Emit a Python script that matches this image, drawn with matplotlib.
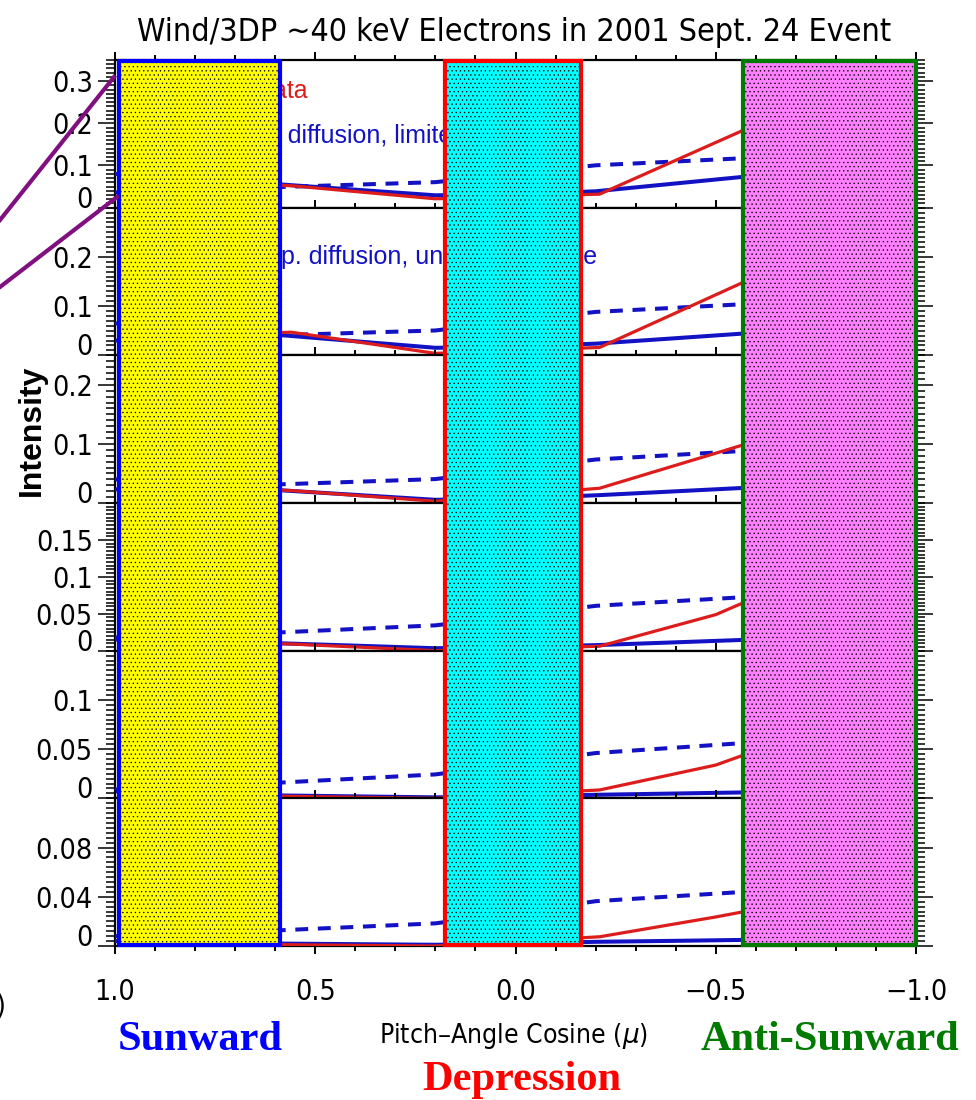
import matplotlib
matplotlib.use("Agg")
import matplotlib.pyplot as plt
import matplotlib.transforms as mtransforms
from matplotlib.patches import Rectangle
from matplotlib.lines import Line2D
from matplotlib.ticker import MultipleLocator

# ---------------- data ----------------
mu_data = [0.95, 0.80, 0.56, 0.20, -0.21, -0.50, -0.80, -0.95]
mu_model = [1.0, 0.8, 0.6, 0.4, 0.2, 0.0, -0.2, -0.4, -0.6, -0.8, -1.0]

data_p1 = [0.070, 0.060, 0.052, 0.021, 0.032, 0.1545, 0.281, 0.320]
data_p2 = [0.050, 0.040, 0.047, 0.004, 0.016, 0.123, 0.234, 0.290]
data_p3 = [0.035, 0.028, 0.021, 0.003, 0.025, 0.0843, 0.146, 0.180]
data_p4 = [0.015, 0.012, 0.009, 0.000, 0.006, 0.0488, 0.119, 0.140]
data_p5 = [0.005, 0.004, 0.002, 0.000, 0.0085, 0.0338, 0.0776, 0.090]
data_p6 = [0.003, 0.002, 0.001, 0.000, 0.0075, 0.0236, 0.042, 0.050]

limited_p1 = [0.080, 0.070, 0.056, 0.0426, 0.0293, 0.032, 0.0388, 0.0574, 0.076, 0.094, 0.110]
limited_p2 = [0.065, 0.055, 0.042, 0.0287, 0.0153, 0.018, 0.0237, 0.0348, 0.046, 0.057, 0.066]
limited_p3 = [0.040, 0.031, 0.0221, 0.0138, 0.0054, 0.008, 0.013, 0.0198, 0.0266, 0.033, 0.040]
limited_p4 = [0.018, 0.014, 0.0102, 0.0068, 0.0033, 0.005, 0.0075, 0.0113, 0.0152, 0.019, 0.023]
limited_p5 = [0.007, 0.005, 0.003, 0.002, 0.001, 0.002, 0.0036, 0.0049, 0.0062, 0.0075, 0.009]
limited_p6 = [0.004, 0.003, 0.002, 0.0015, 0.001, 0.002, 0.0034, 0.0042, 0.0051, 0.006, 0.007]

unlimited_p1 = [0.036, 0.042, 0.0486, 0.0545, 0.0605, 0.080, 0.1004, 0.1095, 0.1186, 0.126, 0.133]
unlimited_p2 = [0.030, 0.035, 0.0406, 0.0456, 0.0505, 0.070, 0.0882, 0.0967, 0.1052, 0.113, 0.120]
unlimited_p3 = [0.023, 0.027, 0.0313, 0.0359, 0.0405, 0.057, 0.0736, 0.0815, 0.0894, 0.097, 0.104]
unlimited_p4 = [0.015, 0.019, 0.0244, 0.0294, 0.0343, 0.047, 0.0607, 0.0671, 0.0734, 0.080, 0.085]
unlimited_p5 = [0.009, 0.012, 0.0157, 0.0200, 0.0243, 0.035, 0.0460, 0.0515, 0.0570, 0.062, 0.066]
unlimited_p6 = [0.008, 0.010, 0.0126, 0.0155, 0.0184, 0.027, 0.0364, 0.0405, 0.0446, 0.048, 0.051]

data_series = [data_p1, data_p2, data_p3, data_p4, data_p5, data_p6]
limited_series = [limited_p1, limited_p2, limited_p3, limited_p4, limited_p5, limited_p6]
unlimited_series = [unlimited_p1, unlimited_p2, unlimited_p3, unlimited_p4, unlimited_p5, unlimited_p6]

y_tops = [0.35, 0.30, 0.25, 0.20, 0.15, 0.12]
y_major = [[0, 0.1, 0.2, 0.3], [0, 0.1, 0.2], [0, 0.1, 0.2],
           [0, 0.05, 0.1, 0.15], [0, 0.05, 0.1], [0, 0.04, 0.08]]
y_major_labels = [["0", "0.1", "0.2", "0.3"], ["0", "0.1", "0.2"], ["0", "0.1", "0.2"],
                  ["0", "0.05", "0.1", "0.15"], ["0", "0.05", "0.1"], ["0", "0.04", "0.08"]]
y_minor = [0.01, 0.01, 0.01, 0.005, 0.005, 0.004]

x_major = [1.0, 0.5, 0.0, -0.5, -1.0]
x_major_labels = ["1.0", "0.5", "0.0", "\u22120.5", "\u22121.0"]

title = "Wind/3DP ~40 keV Electrons in 2001 Sept. 24 Event"
xlabel = "Pitch\u2013Angle Cosine ($\\mu$)"
ylabel = "Intensity"

# regions (mu ranges) highlighted
region_spans = [(0.989, 0.589), (0.175, -0.1625), (-0.5675, -1.0)]
region_faces = ["#ffff00", "#00ffff", "#ff80ff"]
region_edges = ["#0000ff", "#ff0000", "#007a00"]
region_names = ["Sunward", "Depression", "Anti-Sunward"]

# ---------------- style ----------------
NARROW = dict(family=["DejaVu Sans"], stretch="condensed")
SANS = ["Liberation Sans", "DejaVu Sans"]
SERIF = ["Liberation Serif", "DejaVu Serif"]
RED = "#dd1c1c"
BLUE = "#1212c4"
plt.rcParams["hatch.linewidth"] = 0.45
plt.rcParams["axes.unicode_minus"] = True
plt.rcParams["mathtext.fontset"] = "dejavusans"

W, H = 976, 1100
fig = plt.figure(figsize=(W / 100, H / 100), dpi=100)


def fx(px):
    return px / W


def fy(py):
    return 1 - py / H


left_px, right_px, top_px, bot_px = 115, 916, 60, 946
npan = 6
ph = (bot_px - top_px) / npan

axes = []
for i in range(npan):
    t = top_px + i * ph
    ax = fig.add_axes([fx(left_px), fy(t + ph), (right_px - left_px) / W, ph / H])
    ax.set_xlim(1.0, -1.0)
    ax.set_ylim(0, y_tops[i])
    ax.plot(mu_model, limited_series[i], color=BLUE, lw=2.9, zorder=3,
            solid_capstyle="butt")
    ax.plot(mu_model, unlimited_series[i], color=BLUE, lw=2.9, zorder=3,
            linestyle=(0, (3.2, 2.4)), dash_capstyle="butt")
    ax.plot(mu_data, data_series[i], color=RED, lw=2.3, zorder=4)

    for sp in ax.spines.values():
        sp.set_linewidth(1.6)
    ax.set_xticks(x_major)
    ax.xaxis.set_minor_locator(MultipleLocator(0.1))
    ax.set_yticks(y_major[i])
    ax.yaxis.set_minor_locator(MultipleLocator(y_minor[i]))
    ax.tick_params(axis="x", which="both", direction="out", top=True, bottom=True,
                   width=1.4, labelbottom=(i == npan - 1), labeltop=False)
    ax.tick_params(axis="x", which="major", length=6)
    ax.tick_params(axis="x", which="minor", length=3.6)
    ax.tick_params(axis="y", which="both", direction="out", left=True, right=True,
                   width=1.1, labelleft=True, labelright=False)
    ax.tick_params(axis="y", which="major", length=12, pad=4)
    ax.tick_params(axis="y", which="minor", length=6.5)
    ax.set_yticklabels(y_major_labels[i], fontsize=20.5, **NARROW)
    for lab, val in zip(ax.get_yticklabels(), y_major[i]):
        if val == 0:
            lab.set_verticalalignment("baseline")
    if i == npan - 1:
        ax.set_xticklabels(x_major_labels, fontsize=20.5, **NARROW)
        ax.tick_params(axis="x", which="major", pad=17)
    axes.append(ax)

# legend texts (partly hidden by the highlight boxes)
axes[0].text((308 - left_px) / (right_px - left_px), (207.7 - 98) / ph, "Data",
             transform=axes[0].transAxes, ha="right", va="baseline",
             color=RED, family=SANS, fontsize=18, zorder=2)
axes[0].text((228 - left_px) / (right_px - left_px), (207.7 - 143.5) / ph,
             "w/ p. diffusion, limited source",
             transform=axes[0].transAxes, ha="left", va="baseline",
             color=BLUE, family=SANS, fontsize=18, zorder=2)
axes[1].text((249 - left_px) / (right_px - left_px), (355.3 - 263.5) / ph,
             "w/ p. diffusion, unlimited source",
             transform=axes[1].transAxes, ha="left", va="baseline",
             color=BLUE, family=SANS, fontsize=18, zorder=2)

# highlight boxes spanning all panels
trans = mtransforms.blended_transform_factory(axes[-1].transData, fig.transFigure)
box_top, box_bot = fy(61), fy(945)
for (m0, m1), fc, ec in zip(region_spans, region_faces, region_edges):
    fill = Rectangle((m0, box_bot), m1 - m0, box_top - box_bot, transform=trans,
                     facecolor=fc, hatch="....", linewidth=0, zorder=10)
    fig.add_artist(fill)
    border = Rectangle((m0, box_bot), m1 - m0, box_top - box_bot, transform=trans,
                       facecolor="none", edgecolor=ec, linewidth=3.0, zorder=11)
    fig.add_artist(border)

# purple pointer lines
for (x0, y0), (x1, y1) in [((0, 220), (114, 77)), ((0, 287), (117, 197))]:
    fig.add_artist(Line2D([fx(x0), fx(x1)], [fy(y0), fy(y1)], transform=fig.transFigure,
                          color="#80107f", lw=3.0, zorder=12))

# titles and labels
fig.text(fx(514.5), fy(41.5), title, ha="center", va="baseline",
         fontsize=23, **NARROW)
fig.text(fx(514), fy(1043), xlabel, ha="center", va="baseline",
         fontsize=19, **NARROW)
fig.text(fx(32), fy(430), ylabel, ha="center", va="center", rotation=90,
         family=SANS, fontsize=23, fontweight="bold")
fig.text(fx(6), fy(1014), ")", ha="right", va="baseline", fontsize=20.5, **NARROW)

name_pos = [(200, 1050), (521.7, 1090), (830, 1050)]
for name, (px, py), col in zip(region_names, name_pos, region_edges):
    fig.text(fx(px), fy(py), name, ha="center", va="baseline", color=col,
             family=SERIF, fontweight="bold", fontsize=30.5, zorder=13)

fig.savefig("out.png", dpi=100)
